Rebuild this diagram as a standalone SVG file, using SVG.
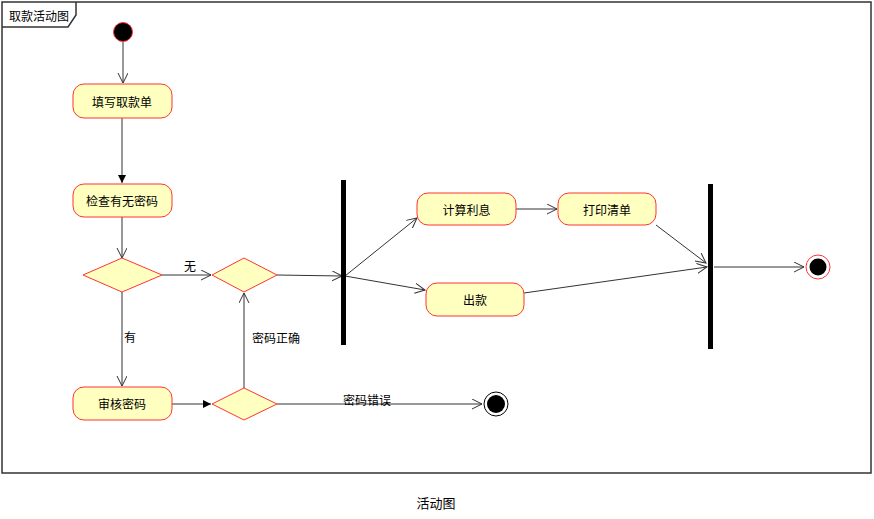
<svg xmlns="http://www.w3.org/2000/svg" width="874" height="519" viewBox="0 0 874 519">
<style>
text{font-family:"Noto Sans CJK SC","Liberation Sans",sans-serif;fill:#000}
.lbl{font-size:12px;text-anchor:middle;dominant-baseline:central}
.act{fill:#FFFFC0;stroke:#FF3333;stroke-width:1}
.dec{fill:#FFFFC0;stroke:#FF3333;stroke-width:1}
.bar{fill:#000}
.ln{fill:none;stroke:#333;stroke-width:1}
</style>
<defs>
<marker id="open" markerWidth="12" markerHeight="12" refX="10" refY="5" orient="auto" markerUnits="userSpaceOnUse">
<path d="M0,0 L10,5 L0,10" fill="none" stroke="#333" stroke-width="1"/>
</marker>
<marker id="fill" markerWidth="10" markerHeight="10" refX="8" refY="4" orient="auto" markerUnits="userSpaceOnUse">
<path d="M0,0 L8,4 L0,8 Z" fill="#000"/>
</marker>
</defs>
<rect width="874" height="519" fill="#fff"/>
<g id="frame">
<rect x="2" y="2" width="869" height="471" fill="none" stroke="#333" stroke-width="1.5"/>
<path d="M2,27 L68,27 L76,15 L76,2" fill="none" stroke="#333" stroke-width="1.5"/>
<text x="39" y="15" class="lbl">取款活动图</text>
</g>
<g id="connectors">
<line class="ln" x1="123" y1="42" x2="123" y2="83" marker-end="url(#open)"/>
<line class="ln" x1="122" y1="118" x2="122" y2="183" marker-end="url(#fill)"/>
<line class="ln" x1="122" y1="217" x2="122" y2="258" marker-end="url(#open)"/>
<line class="ln" x1="162" y1="275" x2="211" y2="275" marker-end="url(#open)"/>
<text x="190" y="265" class="lbl">无</text>
<line class="ln" x1="277" y1="275" x2="342" y2="276" marker-end="url(#open)"/>
<line class="ln" x1="345" y1="276" x2="417" y2="218" marker-end="url(#open)"/>
<line class="ln" x1="345" y1="276" x2="425" y2="290" marker-end="url(#open)"/>
<line class="ln" x1="516" y1="209" x2="557" y2="209" marker-end="url(#open)"/>
<line class="ln" x1="656" y1="225" x2="706" y2="263" marker-end="url(#open)"/>
<line class="ln" x1="524" y1="293" x2="707" y2="267" marker-end="url(#open)"/>
<line class="ln" x1="714" y1="267" x2="804" y2="267" marker-end="url(#open)"/>
<line class="ln" x1="122" y1="292" x2="122" y2="386" marker-end="url(#open)"/>
<text x="130" y="336" class="lbl">有</text>
<line class="ln" x1="172" y1="404" x2="211" y2="404" marker-end="url(#fill)"/>
<line class="ln" x1="244" y1="388" x2="244" y2="293" marker-end="url(#open)"/>
<text x="276" y="337" class="lbl">密码正确</text>
<line class="ln" x1="277" y1="404" x2="482" y2="404" marker-end="url(#open)"/>
<text x="367" y="399" class="lbl">密码错误</text>
</g>
<g id="start"><circle cx="123" cy="32" r="9.5" fill="#000" stroke="#FF3333" stroke-width="1"/></g>
<g id="fill_form"><rect class="act" x="73" y="84" width="99" height="34" rx="11"/><text x="122" y="101" class="lbl">填写取款单</text></g>
<g id="check_pwd"><rect class="act" x="73" y="184" width="99" height="33" rx="11"/><text x="122" y="200.5" class="lbl">检查有无密码</text></g>
<g id="dec1"><polygon class="dec" points="83,275 122,258 162,275 122,292"/></g>
<g id="dec2"><polygon class="dec" points="212,275 244,258 277,275 244,292"/></g>
<g id="fork"><rect class="bar" x="341" y="180" width="5" height="165"/></g>
<g id="calc"><rect class="act" x="417" y="193" width="99" height="32" rx="11"/><text x="466.5" y="209" class="lbl">计算利息</text></g>
<g id="print"><rect class="act" x="558" y="193" width="98" height="32" rx="11"/><text x="607" y="209" class="lbl">打印清单</text></g>
<g id="withdraw"><rect class="act" x="426" y="283" width="98" height="33" rx="11"/><text x="475" y="299.5" class="lbl">出款</text></g>
<g id="join"><rect class="bar" x="708" y="184" width="5" height="165"/></g>
<g id="end1"><circle cx="818" cy="267" r="12" fill="#fff" stroke="#FF3333" stroke-width="1"/><circle cx="818" cy="267" r="8.5" fill="#000"/></g>
<g id="verify"><rect class="act" x="73" y="387" width="99" height="33" rx="11"/><text x="122" y="403.5" class="lbl">审核密码</text></g>
<g id="dec3"><polygon class="dec" points="212,404 244,388 277,404 244,420"/></g>
<g id="end2"><circle cx="496" cy="404" r="12" fill="#fff" stroke="#000" stroke-width="1"/><circle cx="496" cy="404" r="9" fill="#000"/></g>
<text x="436" y="502" style="font-size:13px;text-anchor:middle;dominant-baseline:central">活动图</text>
</svg>
